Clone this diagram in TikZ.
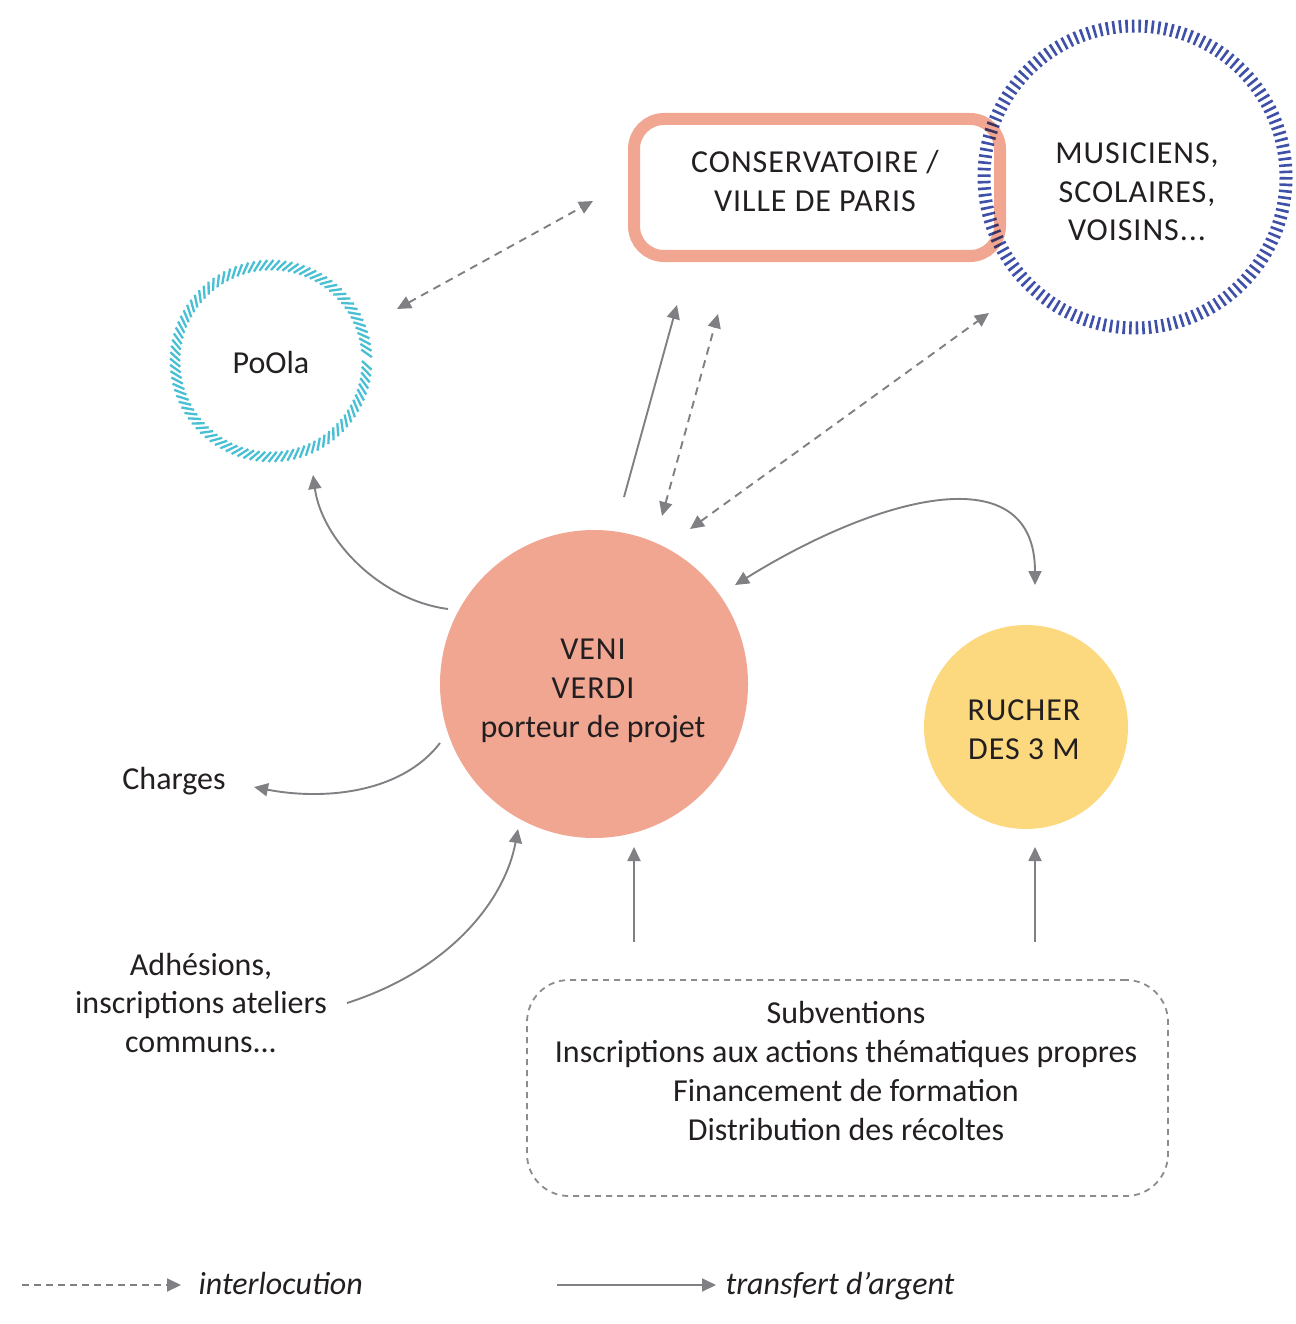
\documentclass[tikz,border=0pt]{standalone}
\usepackage{fontspec}
\setmainfont{Carlito}
\usetikzlibrary{arrows.meta}
\definecolor{salmon}{HTML}{F1A692}
\definecolor{yel}{HTML}{FCD97E}
\definecolor{blu}{HTML}{3E50A8}
\definecolor{cya}{HTML}{48BFD2}
\definecolor{arr}{HTML}{808084}
\definecolor{txt}{HTML}{231F20}
\definecolor{boxg}{HTML}{8C8C8E}
\begin{document}
\begin{tikzpicture}[x=1pt,y=-1pt,
  every node/.style={text=txt, font=\fontsize{32}{38.7}\selectfont, align=center},
  caps/.style={font=\fontsize{32}{38.7}\selectfont\addfontfeature{LetterSpace=3}},
  link/.style={draw=arr, line width=1.9, -{Triangle[length=14pt,width=13pt]}},
  dlink/.style={link, dash pattern=on 8pt off 6pt},
  both/.style={{Triangle[length=14pt,width=13pt]}-{Triangle[length=14pt,width=13pt]}},
  legtext/.style={font=\fontsize{32}{36}\selectfont\itshape, anchor=base west}]
\useasboundingbox (0,0) rectangle (1295,1324);

% conservatoire box
\node[draw=salmon, line width=12, rounded corners=30, minimum width=366, minimum height=137] (cons) at (817,187.5) {};
\node[caps] (consT) at (815,181) {CONSERVATOIRE /\\VILLE DE PARIS};

% musiciens ring
\node[caps] (mus) at (1137,192) {MUSICIENS,\\SCOLAIRES,\\VOISINS...};
\coordinate (musC) at (1135,177);
\begin{scope}[blend mode=multiply]
\draw[blu, line width=13, dash pattern=on 2.6pt off 3.9pt] (musC) circle (151);
\end{scope}

% PoOla hatched ring
\node[circle, minimum size=196, inner sep=0] (poola) at (271,363) {PoOla};
\foreach \a in {0,3.6,...,356.4}
  \draw[cya, line width=2.3, shift={(271,361)}] (\a:91) -- (\a+5:101);

% Veni verdi
\node[circle, fill=salmon, minimum size=308, inner sep=0] (veni) at (594,684) {};
\node[caps] (veniT) at (593,691) {VENI\\VERDI\\\addfontfeature{LetterSpace=0}porteur de projet};

% Rucher
\node[circle, fill=yel, minimum size=204, inner sep=0] (rucher) at (1026,727) {};
\node[caps] (rucherT) at (1024,730) {RUCHER\\DES 3 M};

% dashed box
\node[draw=boxg, line width=1.8, dash pattern=on 6pt off 5pt, rounded corners=42, minimum width=641, minimum height=216] (box) at (847.5,1088) {};
\node (boxT) at (846,1071) {Subventions\\Inscriptions aux actions thématiques propres\\Financement de formation\\Distribution des récoltes};

\node (charges) at (174,781) {Charges};
\node (adh) at (201,1003) {Adhésions,\\inscriptions ateliers\\communs...};

% arrow end points
\coordinate (p1a) at (397,309); \coordinate (p1b) at (593,201);
\coordinate (p2a) at (624,497); \coordinate (p2b) at (677,305);
\coordinate (p3a) at (662,516); \coordinate (p3b) at (718,314);
\coordinate (p4a) at (690,529); \coordinate (p4b) at (989,313);
\coordinate (p5a) at (735,585); \coordinate (p5b) at (1035,585);
\coordinate (p6a) at (448,609); \coordinate (p6b) at (313,475);
\coordinate (p7a) at (440,743); \coordinate (p7b) at (254,787);
\coordinate (p8a) at (347,1003); \coordinate (p8b) at (518,829);
\coordinate (p9a) at (634,942); \coordinate (p9b) at (634,847);
\coordinate (p10a) at (1035,942); \coordinate (p10b) at (1035,847);

\draw[dlink, both] (p1a) -- (p1b);
\draw[link] (p2a) -- (p2b);
\draw[dlink, both] (p3a) -- (p3b);
\draw[dlink, both] (p4a) -- (p4b);
\draw[link, both] (p5a) .. controls (880,495) and (1035,455) .. (p5b);
\draw[link] (p6a) .. controls (380,600) and (322,540) .. (p6b);
\draw[link] (p7a) .. controls (400,795) and (320,800) .. (p7b);
\draw[link] (p8a) .. controls (450,970) and (505,900) .. (p8b);
\draw[link] (p9a) -- (p9b);
\draw[link] (p10a) -- (p10b);

% legend
\coordinate (l1a) at (22,1285); \coordinate (l1b) at (181,1285);
\coordinate (l2a) at (557,1285); \coordinate (l2b) at (716,1285);
\draw[dlink, dash pattern=on 7pt off 5pt] (l1a) -- (l1b);
\draw[link] (l2a) -- (l2b);
\node[legtext] (leg1) at (195,1294) {interlocution};
\node[legtext] (leg2) at (722,1294) {transfert d’argent};
\end{tikzpicture}
\end{document}
